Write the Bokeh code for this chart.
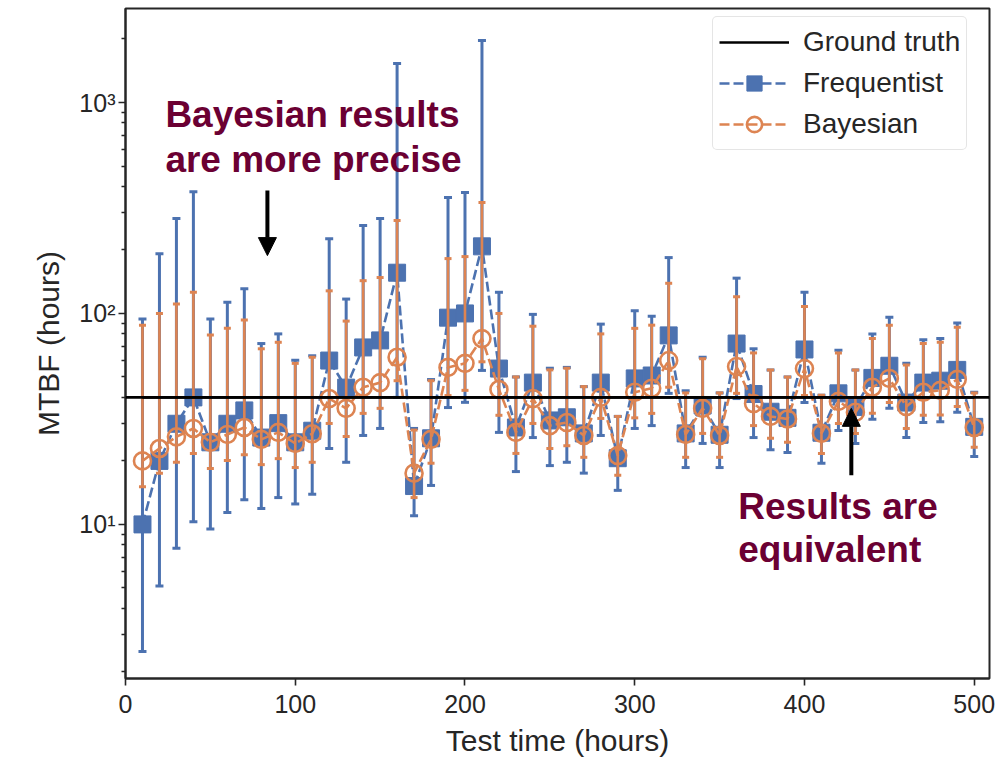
from bokeh.plotting import figure
from bokeh.models import (Range1d, FixedTicker, CustomJSTickFormatter, Span, Legend,
                          LegendItem, Label, Arrow, NormalHead, ColumnDataSource)
from bokeh.embed import file_html
from bokeh.resources import INLINE

# ---------------- data ----------------
test_time = [10, 20, 30, 40, 50, 60, 70, 80, 90, 100,
             110, 120, 130, 140, 150, 160, 170, 180, 190, 200,
             210, 220, 230, 240, 250, 260, 270, 280, 290, 300,
             310, 320, 330, 340, 350, 360, 370, 380, 390, 400,
             410, 420, 430, 440, 450, 460, 470, 480, 490, 500]

freq_mtbf = [10, 20, 30, 40, 24.5, 30, 34.7, 25.8, 30.2, 24.5,
             27.8, 59.8, 44.5, 69, 74.5, 156, 15.2, 25.6, 95.5, 100,
             208, 54.8, 28.8, 47, 31.1, 32.2, 27, 47, 20.6, 49.2,
             50.8, 78.7, 27, 36.6, 26.6, 72, 41.5, 34.2, 32, 67.5,
             27.2, 41.8, 36, 49.5, 56.5, 37.8, 47, 48, 54, 29]
freq_lower = [2.5, 5.1, 7.7, 10.3, 9.5, 11.4, 13.1, 11.9, 13.4, 12.5,
              13.9, 22.9, 19.7, 26.4, 28.5, 40, 11, 15.3, 35.8, 37.9,
              53.7, 27.3, 17.8, 25.8, 19, 19.7, 17.5, 26.4, 14.5, 28.5,
              29.4, 41.8, 18.6, 24.2, 18.6, 39.5, 25.8, 22.6, 21.9, 37.8,
              19.5, 27.9, 24.2, 31.5, 35.5, 25.8, 30.4, 30.7, 34, 21]
freq_upper = [94, 192, 282, 378, 94, 113, 131, 72, 80, 60,
              63, 226, 117, 261, 282, 1530, 28.5, 48.6, 355, 374,
              1968, 126, 50, 99, 55, 55.5, 45, 89, 32.5, 103,
              97, 184, 43, 62, 42, 147, 68, 54, 50, 126,
              41, 67, 54, 80, 96, 58, 75, 76, 90, 42.3]

bayes_mtbf = [20, 22.9, 26, 28.5, 24.5, 26.7, 28.8, 25.3, 27.3, 24.2,
              26.9, 39.5, 35.5, 44.7, 47, 62, 17.5, 25.3, 55.5, 58,
              76, 43.6, 27.3, 39.5, 29.4, 30.4, 26.4, 40, 21.2, 42.3,
              44.2, 59.8, 26.7, 35.5, 26.4, 56, 37.4, 32.5, 31.6, 54.8,
              27, 38.3, 34, 44.7, 49.2, 36.2, 42.3, 43.2, 48.7, 28.8]
bayes_lower = [15.1, 17.5, 19.7, 21.7, 18.4, 20.1, 21.4, 19.2, 20.5, 18.6,
               19.7, 30.1, 26.1, 33.6, 35.5, 48, 13.4, 19.5, 40.8, 43.2,
               59, 32.9, 21.7, 30.1, 22.9, 23.6, 20.8, 31.8, 17.1, 32,
               33.6, 44.7, 20.8, 27, 20.8, 41.8, 29.4, 25.6, 24.5, 40.8,
               21.7, 30.1, 27, 33.6, 37.8, 28.5, 32.9, 33, 36.2, 23.2]
bayes_upper = [88, 100, 111, 126, 79, 85, 93, 68, 73, 58,
               62, 128, 92, 143, 148, 276, 28, 48, 182, 186,
               336, 100, 50, 87, 54, 55, 45, 80, 32.5, 85,
               88, 139, 42, 61, 42, 120, 65, 54, 50, 108,
               41, 65, 54, 76, 88, 57, 72, 73, 86, 42]

ground_truth_mtbf = 40

x_ticks = [0, 100, 200, 300, 400, 500]
y_major_ticks = [10, 100, 1000]
y_minor_ticks = [m * 10 ** k for k in range(0, 4) for m in range(2, 10)]

series_labels = ["Ground truth", "Frequentist", "Bayesian"]
x_title = "Test time (hours)"
y_title = "MTBF (hours)"

# ---------------- styles ----------------
BLUE = "#4c72b0"
ORANGE = "#dd8452"
DARK = "#262626"
MAROON = "#6b0033"
FONT = "Liberation Sans"

p = figure(width=1002, height=763, output_backend="svg", toolbar_location=None,
           y_axis_type="log",
           x_range=Range1d(0, 509), y_range=Range1d(1.86, 2790),
           min_border_left=125, min_border_right=13,
           min_border_top=8, min_border_bottom=85)

p.background_fill_color = "white"
p.border_fill_color = "white"
p.outline_line_color = DARK
p.outline_line_width = 2
p.xgrid.visible = False
p.ygrid.visible = False

for ax in (p.xaxis[0], p.yaxis[0]):
    ax.axis_line_color = DARK
    ax.axis_line_width = 2
    ax.major_tick_line_color = DARK
    ax.major_tick_line_width = 1.6
    ax.minor_tick_line_color = DARK
    ax.minor_tick_line_width = 1.3
    ax.major_tick_in = 0
    ax.major_tick_out = 7
    ax.minor_tick_in = 0
    ax.minor_tick_out = 4
    ax.major_label_text_font = FONT
    ax.major_label_text_font_size = "25px"
    ax.major_label_text_color = DARK
    ax.axis_label_text_font = FONT
    ax.axis_label_text_font_size = "30px"
    ax.axis_label_text_font_style = "normal"
    ax.axis_label_text_color = DARK

p.xaxis.ticker = FixedTicker(ticks=x_ticks, minor_ticks=[])
p.xaxis.axis_label = x_title
p.xaxis.major_label_standoff = 9
p.xaxis.axis_label_standoff = 8

p.yaxis.ticker = FixedTicker(ticks=y_major_ticks, minor_ticks=y_minor_ticks)
p.yaxis.formatter = CustomJSTickFormatter(code="""
    const e = Math.round(Math.log10(tick));
    const sup = {0: '\u2070', 1: '\u00b9', 2: '\u00b2', 3: '\u00b3', 4: '\u2074'};
    return '10' + sup[e];
""")
p.yaxis.axis_label = y_title
p.yaxis.major_label_standoff = 3
p.yaxis.axis_label_standoff = 11

src_f = ColumnDataSource(dict(x=test_time, y=freq_mtbf, lo=freq_lower, hi=freq_upper))
src_b = ColumnDataSource(dict(x=test_time, y=bayes_mtbf, lo=bayes_lower, hi=bayes_upper))
src_gt = ColumnDataSource(dict(x=test_time, y=[ground_truth_mtbf] * len(test_time)))

# Frequentist
p.segment(x0="x", y0="lo", x1="x", y1="hi", source=src_f, line_color=BLUE, line_width=3)
p.scatter(x="x", y="hi", source=src_f, marker="dash", size=8, line_color=BLUE, line_width=3)
p.scatter(x="x", y="lo", source=src_f, marker="dash", size=8, line_color=BLUE, line_width=3)
f_line = p.line(x="x", y="y", source=src_f, line_color=BLUE, line_width=2.6, line_dash="10 4")
f_mark = p.scatter(x="x", y="y", source=src_f, marker="square", size=17,
                   fill_color=BLUE, line_color=BLUE)

# Bayesian
p.segment(x0="x", y0="lo", x1="x", y1="hi", source=src_b, line_color=ORANGE, line_width=2.6)
p.scatter(x="x", y="hi", source=src_b, marker="dash", size=7, line_color=ORANGE, line_width=3)
p.scatter(x="x", y="lo", source=src_b, marker="dash", size=7, line_color=ORANGE, line_width=3)
b_line = p.line(x="x", y="y", source=src_b, line_color=ORANGE, line_width=2.6, line_dash="10 4")
b_mark = p.scatter(x="x", y="y", source=src_b, marker="circle", size=17,
                   fill_color=None, line_color=ORANGE, line_width=2.6)

# Ground truth (line over the data points, spanning the whole axis)
gt_line = p.line(x="x", y="y", source=src_gt, line_color="black", line_width=2.6)
gt_span = Span(location=ground_truth_mtbf, dimension="width", line_color="black", line_width=2.6)
p.add_layout(gt_span)

legend = Legend(items=[
    LegendItem(label=series_labels[0], renderers=[gt_line]),
    LegendItem(label=series_labels[1], renderers=[f_line, f_mark]),
    LegendItem(label=series_labels[2], renderers=[b_line, b_mark]),
], location=(587, 528))
legend.border_line_color = "#cccccc"
legend.border_line_width = 1.5
legend.border_radius = 5
legend.background_fill_alpha = 0.85
legend.label_text_font = FONT
legend.label_text_font_size = "28px"
legend.label_text_color = DARK
legend.glyph_width = 70
legend.glyph_height = 38
legend.spacing = 3
legend.padding = 6
legend.label_standoff = 14
legend.margin = 0
p.add_layout(legend)

# Annotations
ann_style = dict(text_font=FONT, text_font_style="bold", text_font_size="37px",
                 text_color=MAROON, text_baseline="alphabetic")
p.add_layout(Label(x=23.5, y=881, text="Bayesian results", **ann_style))
p.add_layout(Label(x=23.5, y=536, text="are more precise", **ann_style))
p.add_layout(Label(x=361, y=12.1, text="Results are", **ann_style))
p.add_layout(Label(x=361, y=7.6, text="equivalent", **ann_style))

p.add_layout(Arrow(end=NormalHead(size=18, fill_color="black", line_color="black"),
                   x_start=83.6, y_start=383, x_end=83.6, y_end=188,
                   line_color="black", line_width=4))
p.add_layout(Arrow(end=NormalHead(size=18, fill_color="black", line_color="black"),
                   x_start=427.6, y_start=17.1, x_end=427.6, y_end=35.5,
                   line_color="black", line_width=4))

open("out.html", "w").write(file_html(p, INLINE))
